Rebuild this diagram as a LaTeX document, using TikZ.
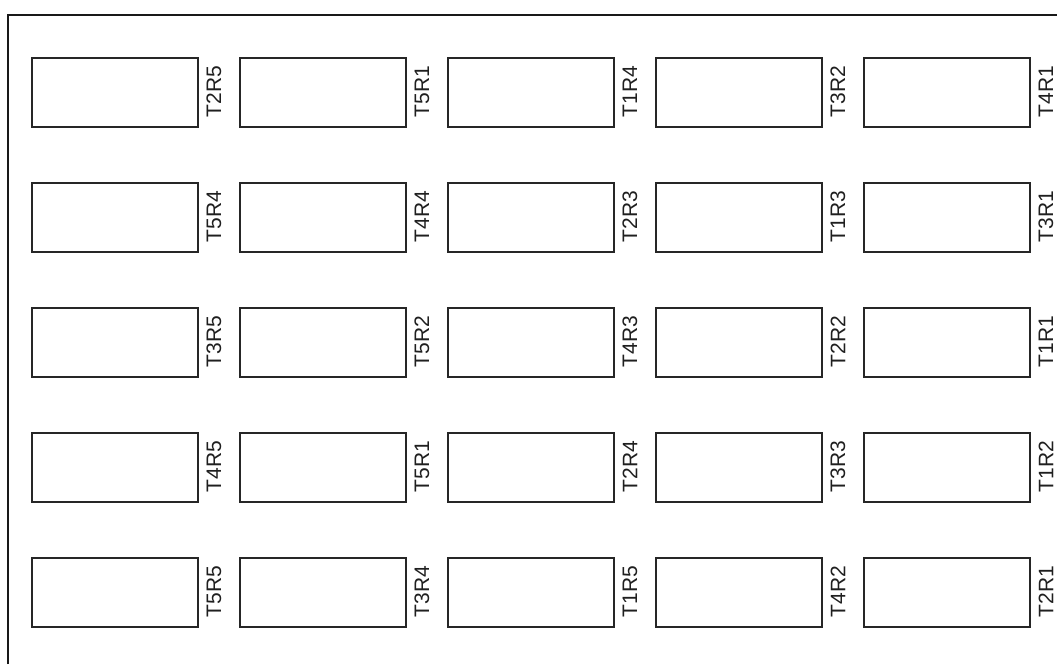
\documentclass[tikz,border=0pt]{standalone}
\usepackage{fontspec}
\setmainfont{Liberation Sans}
\begin{document}
\begin{tikzpicture}[x=1pt,y=-1pt,
  cell/.style={draw=black!85,line width=1.8pt,minimum width=166pt,minimum height=69pt,inner sep=0pt,anchor=north west,fill=white},
  tag/.style={rotate=90,inner sep=0pt,text=black!88,font=\fontsize{21}{24}\selectfont,anchor=center},
  frameline/.style={draw=black!90,line width=2pt}]
\useasboundingbox (0,0) rectangle (1057,664);
\draw[frameline] (8,664) coordinate (fa) -- (8,15) coordinate (fb) -- (1057,15) coordinate (fc);
\foreach \r/\ra/\rb/\rc/\rd/\re in {0/T2R5/T5R1/T1R4/T3R2/T4R1,1/T5R4/T4R4/T2R3/T1R3/T3R1,2/T3R5/T5R2/T4R3/T2R2/T1R1,3/T4R5/T5R1/T2R4/T3R3/T1R2,4/T5R5/T3R4/T1R5/T4R2/T2R1}{
  \foreach \c/\t in {0/\ra,1/\rb,2/\rc,3/\rd,4/\re}{
    \node[cell] (b-\r-\c) at ({31+208*\c},{57+125*\r}) {};
    \node[tag] (l-\r-\c) at ({31+208*\c+183},{57+125*\r+34.5}) {\t};
  }
}
\end{tikzpicture}
\end{document}
